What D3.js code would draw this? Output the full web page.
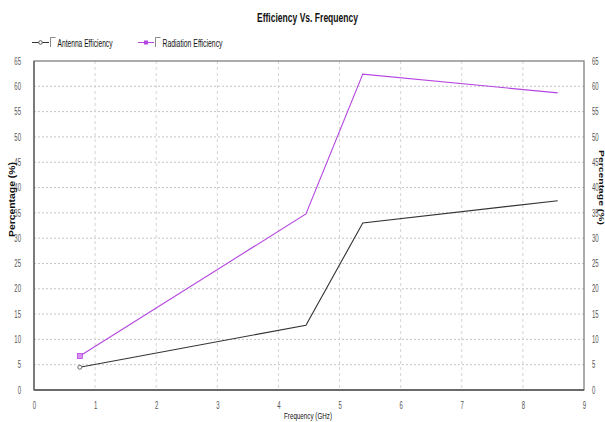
<!DOCTYPE html>
<html><head><meta charset="utf-8">
<script src="https://cdn.jsdelivr.net/npm/d3@7/dist/d3.min.js"></script>
<style>
body{margin:0;background:#fff;}
text{font-family:"Liberation Sans",Arial,sans-serif;}
</style></head>
<body><svg id="c" width="605" height="422"></svg>
<script>
const seriesNames = ["Antenna Efficiency", "Radiation Efficiency"];
const frequency = [0.75, 4.45, 5.38, 8.57];
const antennaEff = [4.5, 12.8, 33.0, 37.4];
const radiationEff = [6.7, 34.8, 62.4, 58.7];
const xTicks = [0,1,2,3,4,5,6,7,8,9];
const yTicks = [0,5,10,15,20,25,30,35,40,45,50,55,60,65];
const colors = ["#333333", "#b545e0"];

const svg = d3.select("#c");
const L = 34, R = 584, T = 61, B = 390;
const x = d3.scaleLinear().domain([0,9]).range([L,R]);
const y = d3.scaleLinear().domain([0,65]).range([B,T]);

function condense(sel, f){
  sel.each(function(){ const w = this.getComputedTextLength();
    d3.select(this).attr("textLength", w*f).attr("lengthAdjust","spacingAndGlyphs"); });
}
function fitTo(sel, w){ sel.attr("textLength", w).attr("lengthAdjust","spacingAndGlyphs"); }

// grid
svg.append("g").selectAll("line").data(yTicks.slice(1,-1)).join("line")
  .attr("x1",L).attr("x2",R).attr("y1",d=>y(d)).attr("y2",d=>y(d))
  .attr("stroke","#c4c4c4").attr("stroke-dasharray","2,2");
svg.append("g").selectAll("line").data(xTicks.slice(1,-1)).join("line")
  .attr("y1",T).attr("y2",B).attr("x1",d=>x(d)).attr("x2",d=>x(d))
  .attr("stroke","#d4d4d4").attr("stroke-dasharray","3,3");

// axes
const tickStyle = g => { g.select(".domain").remove(); g.selectAll(".tick line").remove();
  g.selectAll("text").attr("fill","#555").attr("font-size","10px").call(condense, 0.6); };
svg.append("g").attr("transform",`translate(0,${B})`)
  .call(d3.axisBottom(x).tickValues(xTicks).tickFormat(d3.format("d")).tickPadding(6)).call(tickStyle);
svg.append("g").attr("transform",`translate(${L},0)`)
  .call(d3.axisLeft(y).tickValues(yTicks).tickFormat(d3.format("d")).tickPadding(7)).call(tickStyle);
svg.append("g").attr("transform",`translate(${R},0)`)
  .call(d3.axisRight(y).tickValues(yTicks).tickFormat(d3.format("d")).tickPadding(2)).call(tickStyle);

// frame
svg.append("rect").attr("x",L).attr("y",T).attr("width",R-L).attr("height",B-T)
  .attr("fill","none").attr("stroke","#808080").attr("stroke-width",1.3);
svg.append("line").attr("x1",L).attr("x2",R).attr("y1",B).attr("y2",B).attr("stroke","#555").attr("stroke-width",1.6);
svg.append("line").attr("x1",L).attr("x2",L).attr("y1",T).attr("y2",B).attr("stroke","#666").attr("stroke-width",1.4);

// lines
const data = [antennaEff, radiationEff];
const line = d3.line().x((d,i)=>x(frequency[i])).y(d=>y(d));
data.forEach((s,k)=>{
  svg.append("path").datum(s).attr("d",line).attr("fill","none")
    .attr("stroke",colors[k]).attr("stroke-width",1.1);
});
// markers on first point
svg.append("circle").attr("cx",x(frequency[0])).attr("cy",y(antennaEff[0])).attr("r",2)
  .attr("fill","#fff").attr("stroke","#666").attr("stroke-width",1);
svg.append("rect").attr("x",x(frequency[0])-2.5).attr("y",y(radiationEff[0])-2.5).attr("width",5).attr("height",5)
  .attr("fill","#d890f0").attr("stroke",colors[1]).attr("stroke-width",0.8);

// title
svg.append("text").attr("x",257).attr("y",22)
  .attr("font-size","12.5px").attr("font-weight","bold").attr("fill","#111").text("Efficiency Vs. Frequency").call(fitTo, 101);

// legend
const leg = [{x0:32, x1:49, cb:50.5, tx:57.5, w:55},{x0:138, x1:154, cb:155.5, tx:162.5, w:60}];
leg.forEach((p,k)=>{
  const g = svg.append("g");
  g.append("line").attr("x1",p.x0).attr("x2",p.x1).attr("y1",42.5).attr("y2",42.5).attr("stroke",colors[k]).attr("stroke-width",1);
  if(k===0) g.append("circle").attr("cx",(p.x0+p.x1)/2).attr("cy",42.5).attr("r",1.8).attr("fill","#fff").attr("stroke","#555");
  else g.append("rect").attr("x",(p.x0+p.x1)/2-2).attr("y",40.5).attr("width",4).attr("height",4).attr("fill",colors[1]);
  g.append("path").attr("d",`M${p.cb},47 V37.5 H${p.cb+5}`).attr("fill","none").attr("stroke","#888").attr("stroke-width",1);
  g.append("text").attr("x",p.tx).attr("y",46.5).attr("font-size","10px").attr("fill","#111").text(seriesNames[k]).call(fitTo, p.w);
});

// axis titles
svg.append("text").attr("x",284).attr("y",419)
  .attr("font-size","9px").attr("fill","#111").text("Frequency (GHz)").call(fitTo, 48);
svg.append("text").attr("transform","translate(15,237) rotate(-90)")
  .attr("font-size","9.5px").attr("font-weight","bold").attr("fill","#111").text("Percentage (%)").call(fitTo, 75);
svg.append("text").attr("transform","translate(598.5,150) rotate(90)")
  .attr("font-size","8px").attr("font-weight","bold").attr("fill","#111").text("Percentage (%)").call(fitTo, 75);
</script></body></html>
